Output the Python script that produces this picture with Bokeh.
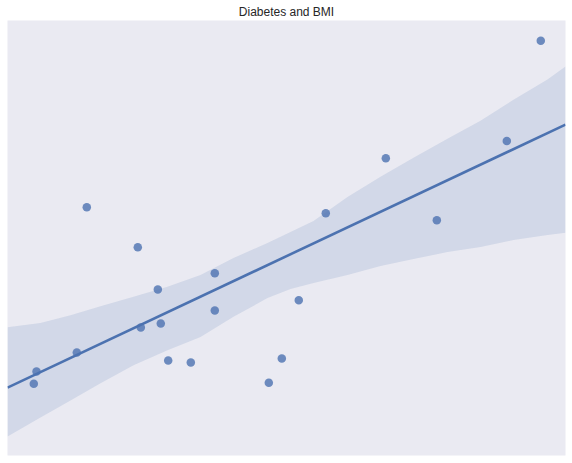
import numpy as np
from bokeh.plotting import figure
from bokeh.models import Range1d
from bokeh.embed import file_html
from bokeh.resources import INLINE

title_text = "Diabetes and BMI"

# scatter data (arbitrary units)
bmi = [4.71, 5.20, 12.42, 14.21, 23.35, 23.89, 26.94, 27.47, 28.80, 32.85,
       37.15, 37.15, 46.83, 49.16, 52.20, 57.04, 67.80, 76.94, 89.48, 95.57]
diabetes = [16.52, 19.29, 23.66, 57.07, 47.86, 29.42, 38.18, 30.35, 21.82, 21.36,
            41.87, 33.34, 16.75, 22.28, 35.71, 55.69, 68.36, 54.08, 72.28, 95.32]

# bootstrap confidence band
band_x = [0, 5.91, 11.29, 16.67, 22.58, 28.67, 34.59, 40.50, 46.59, 50.72,
          54.84, 60.93, 66.85, 72.76, 78.85, 84.77, 90.68, 96.77, 100]
band_upper = [29.49, 30.48, 32.26, 34.33, 36.47, 38.78, 41.47, 45.39, 48.85, 51.38,
              53.92, 59.45, 64.06, 68.43, 72.81, 76.96, 81.80, 86.41, 89.40]
band_lower = [4.38, 8.76, 12.67, 16.59, 20.74, 24.19, 27.26, 31.87, 36.18, 38.25,
              39.63, 41.47, 43.55, 45.16, 46.77, 47.93, 49.54, 50.69, 51.22]

x_lo, x_hi = 0, 100
y_lo, y_hi = 0, 100

slope, intercept = np.polyfit(bmi, diabetes, 1)
line_x = [x_lo, x_hi]
line_y = [intercept + slope * v for v in line_x]

C0 = "#4C72B0"

p = figure(width=572, height=463, output_backend="svg", toolbar_location=None,
           x_range=Range1d(x_lo, x_hi), y_range=Range1d(y_lo, y_hi),
           x_axis_location=None, y_axis_location=None,
           min_border_left=7, min_border_right=7, min_border_bottom=8, min_border_top=0,
           title=title_text)
p.background_fill_color = "#EAEAF2"
p.border_fill_color = "white"
p.outline_line_color = None
p.grid.visible = False
p.title.align = "center"
p.title.text_font = "Liberation Sans"
p.title.text_font_size = "12px"
p.title.text_font_style = "normal"
p.title.text_color = "#262626"
p.title.standoff = 4

p.varea(x=band_x, y1=band_lower, y2=band_upper, fill_color=C0, fill_alpha=0.15)
p.line(x=line_x, y=line_y, line_color=C0, line_width=2.6)
p.scatter(x=bmi, y=diabetes, size=8.5, fill_color=C0, fill_alpha=0.8, line_color=None)

open("out.html", "w").write(file_html(p, INLINE))
